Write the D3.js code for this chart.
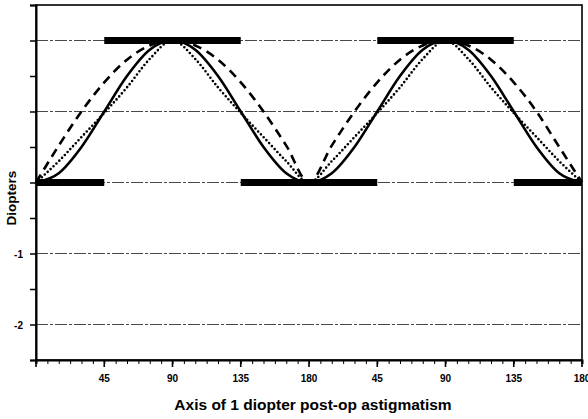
<!DOCTYPE html>
<html>
<head>
<meta charset="utf-8">
<script src="https://cdn.jsdelivr.net/npm/d3@7"></script>
<style>
  body { margin: 0; background: #fff; }
  text { font-family: "Liberation Sans", Arial, sans-serif; }
</style>
</head>
<body>
<div id="chart"></div>
<script>
// axis of astigmatism, degrees (two 0-180 cycles)
const degrees = [0, 15, 30, 45, 60, 75, 90, 105, 120, 135, 150, 165, 180,
                 195, 210, 225, 240, 255, 270, 285, 300, 315, 330, 345, 360];
const solidVals = [0, 0.13, 0.5, 1.0, 1.5, 1.87, 2.0, 1.87, 1.5, 1.0, 0.5, 0.13, 0,
                   0.13, 0.5, 1.0, 1.5, 1.87, 2.0, 1.87, 1.5, 1.0, 0.5, 0.13, 0];
const dashedVals = [0, 0.52, 1.0, 1.41, 1.73, 1.93, 2.0, 1.93, 1.73, 1.41, 1.0, 0.52, 0,
                    0.52, 1.0, 1.41, 1.73, 1.93, 2.0, 1.93, 1.73, 1.41, 1.0, 0.5, 0];
const dottedVals = [0, 0.3, 0.64, 0.98, 1.34, 1.74, 2.0, 1.74, 1.34, 0.98, 0.64, 0.3, 0,
                    0.3, 0.64, 0.98, 1.34, 1.74, 2.0, 1.74, 1.34, 0.98, 0.64, 0.3, 0];
// thick step segments
const barStart = [0, 45, 135, 225, 315];
const barEnd   = [45, 135, 225, 315, 360];
const barLevel = [0, 2, 0, 2, 0];
const xTickVals = [45, 90, 135, 180, 225, 270, 315, 360];
const xTickLabels = ["45", "90", "135", "180", "45", "90", "135", "180"];
const yTickVals = [-1, -2];
const yTickLabels = ["-1", "-2"];
const gridVals = [2, 1, 0, -1, -2];

const W = 588, H = 419;
const margin = {top: 5, right: 6, bottom: 59, left: 36};

const svg = d3.select("#chart").append("svg")
    .attr("width", W).attr("height", H);

const x = d3.scaleLinear().domain([0, 360]).range([margin.left, W - margin.right]);
const y = d3.scaleLinear().domain([-2.5, 2.5]).range([H - margin.bottom, margin.top]);

// gridlines
svg.append("g").selectAll("line").data(gridVals).enter().append("line")
    .attr("x1", x(0)).attr("x2", x(360))
    .attr("y1", d => y(d)).attr("y2", d => y(d))
    .attr("stroke", "#333").attr("stroke-width", 0.9)
    .attr("stroke-dasharray", "12,2,3,2");

// curves
function series(vals) { return degrees.map((d, i) => [d, vals[i]]); }
const line = d3.line().x(d => x(d[0])).y(d => y(d[1])).curve(d3.curveMonotoneX);

svg.append("path").datum(series(dashedVals)).attr("d", line)
    .attr("fill", "none").attr("stroke", "#000").attr("stroke-width", 2.6)
    .attr("stroke-dasharray", "9,6");
svg.append("path").datum(series(dottedVals)).attr("d", line)
    .attr("fill", "none").attr("stroke", "#000").attr("stroke-width", 2.6)
    .attr("stroke-linecap", "round").attr("stroke-dasharray", "0,4");
svg.append("path").datum(series(solidVals)).attr("d", line)
    .attr("fill", "none").attr("stroke", "#000").attr("stroke-width", 2.6);

// thick bars
svg.append("g").selectAll("line").data(barStart).enter().append("line")
    .attr("x1", (d, i) => x(d)).attr("x2", (d, i) => x(barEnd[i]))
    .attr("y1", (d, i) => y(barLevel[i])).attr("y2", (d, i) => y(barLevel[i]))
    .attr("stroke", "#000").attr("stroke-width", 7);

// frame
svg.append("rect")
    .attr("x", x(0)).attr("y", y(2.5))
    .attr("width", x(360) - x(0)).attr("height", y(-2.5) - y(2.5))
    .attr("fill", "none").attr("stroke", "#000").attr("stroke-width", 1.6);

// x axis
const xAxis = svg.append("g").attr("transform", "translate(0," + y(-2.5) + ")");
xAxis.call(d3.axisBottom(x).tickValues(d3.range(0, 361, 7.5)).tickSize(4).tickFormat(""));
xAxis.call(g => g.select(".domain").attr("stroke-width", 2));
xAxis.append("g").selectAll("line").data(xTickVals.concat([0])).enter().append("line")
    .attr("x1", d => x(d)).attr("x2", d => x(d)).attr("y1", 0).attr("y2", 7)
    .attr("stroke", "#000").attr("stroke-width", 1.6);
xAxis.append("g").selectAll("text").data(xTickVals).enter().append("text")
    .attr("x", d => x(d)).attr("y", 22)
    .attr("fill", "#000")
    .attr("text-anchor", "middle").attr("font-size", 10).attr("font-weight", "bold")
    .text((d, i) => xTickLabels[i]);

// y axis
const yAxis = svg.append("g").attr("transform", "translate(" + x(0) + ",0)");
yAxis.call(d3.axisLeft(y).tickValues(d3.range(-2.5, 2.51, 0.5)).tickSize(6).tickFormat(""));
yAxis.call(g => g.select(".domain").attr("stroke-width", 2));
yAxis.selectAll(".tick line").attr("stroke-width", 1.5);
yAxis.append("g").selectAll("text").data(yTickVals).enter().append("text")
    .attr("x", -13).attr("y", d => y(d) + 4)
    .attr("fill", "#000")
    .attr("text-anchor", "end").attr("font-size", 10).attr("font-weight", "bold")
    .text((d, i) => yTickLabels[i]);

// titles
svg.append("text")
    .attr("x", (x(0) + x(360)) / 2 + 4).attr("y", 410)
    .attr("text-anchor", "middle").attr("font-size", 15.5).attr("font-weight", "bold")
    .text("Axis of 1 diopter post-op astigmatism");
svg.append("text")
    .attr("transform", "translate(16," + 198 + ") rotate(-90)")
    .attr("text-anchor", "middle").attr("font-size", 13.5).attr("font-weight", "bold")
    .text("Diopters");
</script>
</body>
</html>
